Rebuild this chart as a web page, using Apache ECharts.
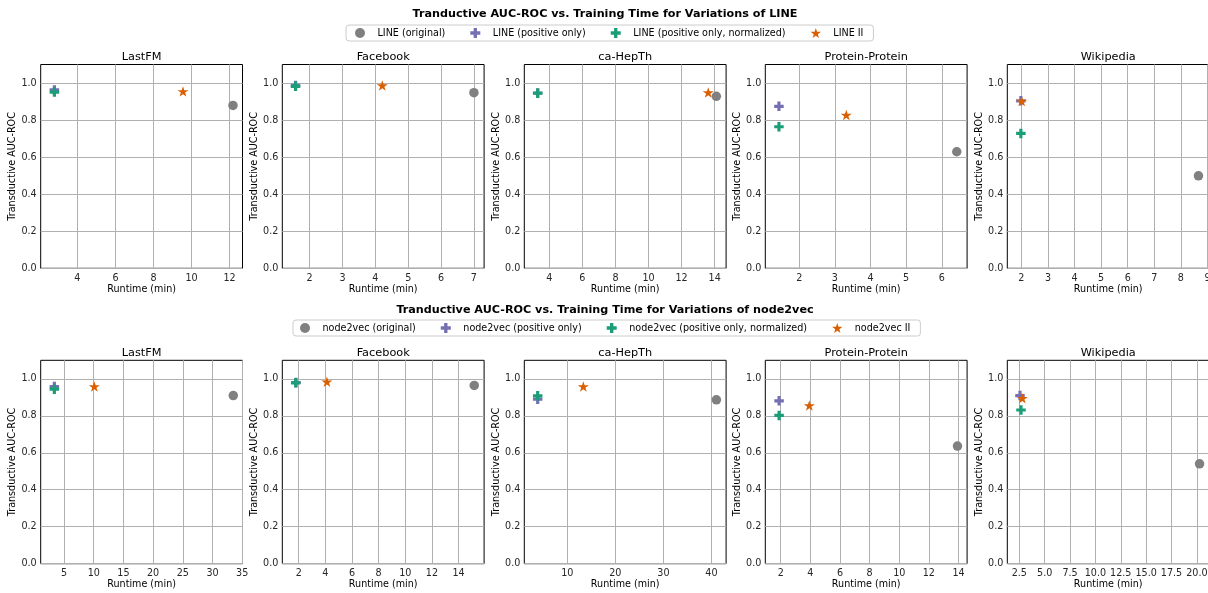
<!DOCTYPE html>
<html>
<head>
<meta charset="utf-8">
<title>Tranductive AUC-ROC vs. Training Time</title>
<script src="https://cdn.jsdelivr.net/npm/echarts@6/dist/echarts.min.js"></script>
<style>
  html, body { margin: 0; padding: 0; background: #ffffff; }
  #chart { width: 1208px; height: 593px; }
</style>
</head>
<body>
<div id="chart"></div>
<script>
// ---- data ----------------------------------------------------------------
const datasets = ['LastFM', 'Facebook', 'ca-HepTh', 'Protein-Protein', 'Wikipedia'];

// LINE variants: training runtime (min) and transductive AUC-ROC per dataset
const lineOriginalRuntime = [12.18, 7.00, 14.10, 6.42, 8.66];
const lineOriginalAuc     = [0.879, 0.948, 0.928, 0.629, 0.499];
const linePosRuntime      = [2.79, 1.57, 3.30, 1.43, 1.98];
const linePosAuc          = [0.963, 0.987, 0.946, 0.874, 0.904];
const linePosNormRuntime  = [2.79, 1.57, 3.30, 1.43, 1.98];
const linePosNormAuc      = [0.951, 0.982, 0.945, 0.764, 0.728];
const lineIIRuntime       = [9.55, 4.21, 13.61, 3.32, 2.01];
const lineIIAuc           = [0.955, 0.987, 0.949, 0.827, 0.903];

// node2vec variants
const n2vOriginalRuntime = [33.5, 15.18, 41.04, 13.93, 20.26];
const n2vOriginalAuc     = [0.909, 0.964, 0.886, 0.636, 0.540];
const n2vPosRuntime      = [3.37, 1.80, 3.83, 1.89, 2.57];
const n2vPosAuc          = [0.958, 0.980, 0.890, 0.881, 0.909];
const n2vPosNormRuntime  = [3.37, 1.775, 3.83, 1.89, 2.67];
const n2vPosNormAuc      = [0.944, 0.978, 0.908, 0.802, 0.831];
const n2vIIRuntime       = [10.1, 4.12, 13.33, 3.93, 2.80];
const n2vIIAuc           = [0.958, 0.984, 0.958, 0.856, 0.895];

// tick labels
const yTicks = [0.0, 0.2, 0.4, 0.6, 0.8, 1.0];
const lineXTicks = [
  [4, 6, 8, 10, 12],
  [2, 3, 4, 5, 6, 7],
  [4, 6, 8, 10, 12, 14],
  [2, 3, 4, 5, 6],
  [2, 3, 4, 5, 6, 7, 8, 9]
];
const n2vXTicks = [
  [5, 10, 15, 20, 25, 30, 35],
  [2, 4, 6, 8, 10, 12, 14],
  [10, 20, 30, 40],
  [2, 4, 6, 8, 10, 12, 14],
  [2.5, 5.0, 7.5, 10.0, 12.5, 15.0, 17.5, 20.0]
];
const n2vXDecimals = [0, 0, 0, 0, 1];

// ---- layout & style ------------------------------------------------------
const xLimits = [
  [[2.07, 12.68], [1.167, 7.31], [2.49, 14.69], [1.047, 6.71], [1.47, 9.06]],
  [[1.07, 35.05], [0.77, 15.92], [1.04, 43.06], [0.96, 14.58], [1.32, 21.2]]
];
const colLeft = [40.7, 282.3, 524.3, 765.3, 1007.3];
const panelW = 201.8;
const rowTop = [64.5, 360.3];
const panelH = [203.8, 203.4];
const FONT = 'DejaVu Sans';

const PLUS = 'path://M-1,-3L1,-3L1,-1L3,-1L3,1L1,1L1,3L-1,3L-1,1L-3,1L-3,-1L-1,-1Z';
const STAR = 'path://M0,-1000L224.5,-309L951,-309L363.3,118L588,809L0,382L-588,809L-363.3,118L-951,-309L-224.5,-309Z';

const variantStyle = [
  { symbol: 'circle', size: 9.5, color: '#808080' },
  { symbol: PLUS, size: 9.5, color: '#7570b3' },
  { symbol: PLUS, size: 9.5, color: '#1b9e77' },
  { symbol: STAR, size: 11, color: '#d95f02' }
];

const rows = [
  {
    title: 'Tranductive AUC-ROC vs. Training Time for Variations of LINE',
    names: ['LINE (original)', 'LINE (positive only)', 'LINE (positive only, normalized)', 'LINE II'],
    runtimes: [lineOriginalRuntime, linePosRuntime, linePosNormRuntime, lineIIRuntime],
    aucs: [lineOriginalAuc, linePosAuc, linePosNormAuc, lineIIAuc],
    ticks: lineXTicks,
    decimals: [0, 0, 0, 0, 0],
    titleTop: 9,
    legendLeft: 346, legendTop: 25, legendPad: [3, 10, 3, 9]
  },
  {
    title: 'Tranductive AUC-ROC vs. Training Time for Variations of node2vec',
    names: ['node2vec (original)', 'node2vec (positive only)', 'node2vec (positive only, normalized)', 'node2vec II'],
    runtimes: [n2vOriginalRuntime, n2vPosRuntime, n2vPosNormRuntime, n2vIIRuntime],
    aucs: [n2vOriginalAuc, n2vPosAuc, n2vPosNormAuc, n2vIIAuc],
    ticks: n2vXTicks,
    decimals: n2vXDecimals,
    titleTop: 305,
    legendLeft: 293, legendTop: 320, legendPad: [3, 10, 3, 7]
  }
];

// ---- build option ----------------------------------------------------------
const grids = [], xAxes = [], yAxes = [], series = [], titles = [], legends = [];
const labelStyle = { fontFamily: FONT, fontSize: 9.6, color: '#262626' };

rows.forEach((row, r) => {
  titles.push({
    text: row.title, left: 605, top: row.titleTop, textAlign: 'center', padding: 0,
    textStyle: { fontFamily: FONT, fontSize: 11.2, fontWeight: 'bold', color: '#000' }
  });
  legends.push({
    left: row.legendLeft, top: row.legendTop, orient: 'horizontal',
    data: row.names.map((n, v) => ({ name: n, icon: variantStyle[v].symbol })),
    itemWidth: 11, itemHeight: 10, itemGap: 25,
    padding: row.legendPad,
    borderColor: '#cccccc', borderWidth: 1, borderRadius: 3,
    backgroundColor: '#ffffff',
    selectedMode: false,
    textStyle: { fontFamily: FONT, fontSize: 9.6, color: '#000', padding: [0, 0, 0, 7] }
  });

  datasets.forEach((ds, p) => {
    const idx = r * 5 + p;
    const left = colLeft[p], top = rowTop[r];
    grids.push({
      left: left, top: top, width: panelW, height: panelH[r],
      outerBoundsMode: 'none', containLabel: false,
      show: true, borderColor: '#000', borderWidth: 1, backgroundColor: 'transparent'
    });
    titles.push({
      text: ds, left: left + panelW / 2, top: top - 13, textAlign: 'center', padding: 0,
      textStyle: { fontFamily: FONT, fontSize: 11.3, fontWeight: 'normal', color: '#000' }
    });
    const dec = row.decimals[p];
    xAxes.push({
      gridIndex: idx, type: 'value',
      min: xLimits[r][p][0], max: xLimits[r][p][1],
      name: 'Runtime (min)', nameLocation: 'middle', nameGap: 16,
      nameTextStyle: { fontFamily: FONT, fontSize: 9.6, color: '#000' },
      axisLine: { show: false },
      axisTick: { show: false, customValues: row.ticks[p] },
      axisLabel: Object.assign({
        customValues: row.ticks[p], margin: 5,
        formatter: v => Number(v).toFixed(dec)
      }, labelStyle),
      splitLine: { show: true, lineStyle: { color: '#b0b0b0', width: 1 } }
    });
    yAxes.push({
      gridIndex: idx, type: 'value', min: 0, max: 1.1,
      name: 'Transductive AUC-ROC', nameLocation: 'middle', nameGap: 19,
      nameTextStyle: { fontFamily: FONT, fontSize: 9.6, color: '#000' },
      axisLine: { show: false },
      axisTick: { show: false, customValues: yTicks },
      axisLabel: Object.assign({
        customValues: yTicks, margin: 4,
        formatter: v => Number(v).toFixed(1)
      }, labelStyle),
      splitLine: { show: true, lineStyle: { color: '#b0b0b0', width: 1 } }
    });
    row.names.forEach((name, v) => {
      const st = variantStyle[v];
      series.push({
        type: 'scatter', name: name,
        xAxisIndex: idx, yAxisIndex: idx,
        data: [[row.runtimes[v][p], row.aucs[v][p]]],
        symbol: st.symbol, symbolSize: st.size, symbolKeepAspect: true,
        itemStyle: { color: st.color, opacity: 1 },
        z: 3 + v,
        emphasis: { disabled: true },
        silent: true
      });
    });
  });
});

const chart = echarts.init(document.getElementById('chart'), null, { renderer: 'canvas' });
chart.setOption({
  animation: false,
  backgroundColor: '#ffffff',
  title: titles,
  legend: legends,
  grid: grids,
  xAxis: xAxes,
  yAxis: yAxes,
  series: series
});
</script>
</body>
</html>
